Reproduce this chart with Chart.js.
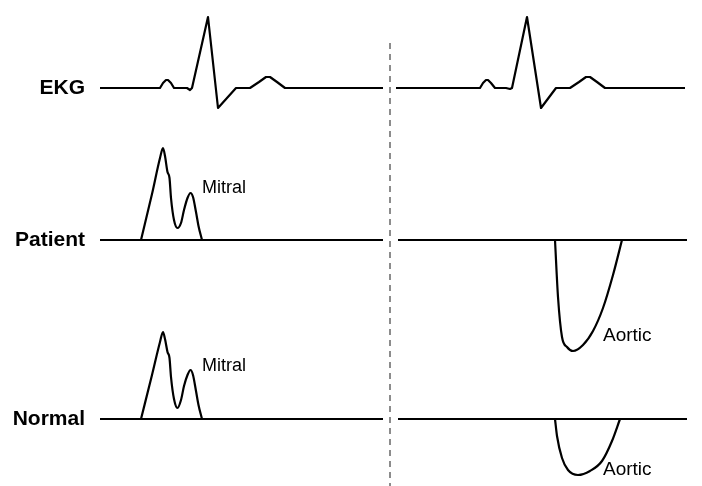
<!DOCTYPE html>
<html>
<head>
<meta charset="utf-8">
<script src="https://cdn.jsdelivr.net/npm/chart.js@4"></script>
<style>
  html, body { margin: 0; padding: 0; background: #fff; }
  #wrap { width: 702px; height: 486px; position: relative; }
</style>
</head>
<body>
<div id="wrap"><canvas id="chart"></canvas></div>
<script>
// row names and wave names
const rowLabels = ['EKG', 'Patient', 'Normal'];
const flowLabels = ['Mitral', 'Aortic'];

// EKG beat, left and right of the divider (time units, amplitude up = positive)
const ekgLeftX  = [100, 160, 163, 166, 168, 171, 174, 187, 190, 192, 208, 218, 236, 250, 259, 266, 270, 277, 285, 383];
const ekgLeftY  = [0,   0,   5,   8,   8,   5,   0,   0,   -2,  0,   71,  -20, 0,   0,   6,   11,  11,  6,   0,   0];
const ekgRightX = [396, 480, 483, 486, 488, 491, 495, 506, 510, 512, 527, 541, 556, 570, 579, 586, 590, 597, 605, 685];
const ekgRightY = [0,   0,   5,   8,   8,   5,   0,   0,   -1,  0,   71,  -20, 0,   0,   6,   11,  11,  6,   0,   0];

// mitral inflow (above the line)
const mitralX        = [141, 152, 160, 163, 165, 167.5, 169.5, 171, 174, 177.5, 181, 184, 187.5, 190.5, 193, 196, 198.5, 202];
const mitralPatientY = [0,   46,  82,  92,  84,  68,    62,    42,  20,  12,    17,  30,  42,    47,    43,  28,  14,    0];
const mitralNormalY  = [0,   44,  77,  87,  80,  67,    61,    42,  20,  11,    19,  33,  44,    49,    44,  28,  14,    0];

// aortic outflow (below the line)
const aorticPatientX = [555, 558, 562, 567, 573, 583, 593, 603, 613, 622];
const aorticPatientY = [0,   -57, -97, -107, -111, -105, -91, -68, -35, 0];
const aorticNormalX  = [555, 557, 562, 568, 578, 590, 602, 612, 620];
const aorticNormalY  = [0,   -17, -39, -51, -56, -52, -42, -22, 0];

// baseline extents for each panel
const leftPanel = [100, 383];
const rightPanel = [398, 687];
const dividerX = 390;

function pts(xs, ys) {
  return xs.map((x, i) => ({ x: x, y: ys[i] }));
}

function line(data, axis, opts) {
  return Object.assign({
    data: data,
    yAxisID: axis,
    showLine: true,
    borderColor: '#000',
    borderWidth: 2.2,
    pointRadius: 0,
    fill: false,
    tension: 0
  }, opts || {});
}

function baseline(panel, axis) {
  return line(pts(panel, [0, 0]), axis);
}

const datasets = [
  line(pts(ekgLeftX, ekgLeftY), 'yEkg', { borderJoinStyle: 'round' }),
  line(pts(ekgRightX, ekgRightY), 'yEkg', { borderJoinStyle: 'round' }),
  baseline(leftPanel, 'yPatient'),
  baseline(rightPanel, 'yPatient'),
  baseline(leftPanel, 'yNormal'),
  baseline(rightPanel, 'yNormal'),
  line(pts(mitralX, mitralPatientY), 'yPatient', { cubicInterpolationMode: 'monotone' }),
  line(pts(mitralX, mitralNormalY), 'yNormal', { cubicInterpolationMode: 'monotone' }),
  line(pts(aorticPatientX, aorticPatientY), 'yPatient', { cubicInterpolationMode: 'monotone' }),
  line(pts(aorticNormalX, aorticNormalY), 'yNormal', { cubicInterpolationMode: 'monotone' }),
  // dashed divider between the two beats
  line(pts([dividerX, dividerX], [45, -400]), 'yEkg', { borderColor: '#8c8c8c', borderWidth: 2, borderDash: [6, 5] })
];

// text labels: [text, x, amplitude, axis, font, align]
const textItems = [
  [rowLabels[0], 85, 0, 'yEkg', 'bold 21px "Liberation Sans", Arial, sans-serif', 'right'],
  [rowLabels[1], 85, 0, 'yPatient', 'bold 21px "Liberation Sans", Arial, sans-serif', 'right'],
  [rowLabels[2], 85, 0, 'yNormal', 'bold 21px "Liberation Sans", Arial, sans-serif', 'right'],
  [flowLabels[0], 202, 52, 'yPatient', '18px "Liberation Sans", Arial, sans-serif', 'left'],
  [flowLabels[0], 202, 53, 'yNormal', '18px "Liberation Sans", Arial, sans-serif', 'left'],
  [flowLabels[1], 603, -96, 'yPatient', '19px "Liberation Sans", Arial, sans-serif', 'left'],
  [flowLabels[1], 603, -51, 'yNormal', '19px "Liberation Sans", Arial, sans-serif', 'left']
];

const labelPlugin = {
  id: 'labels',
  afterDatasetsDraw: function(chart) {
    const ctx = chart.ctx;
    ctx.save();
    ctx.fillStyle = '#000';
    ctx.textBaseline = 'middle';
    textItems.forEach(function(t) {
      ctx.font = t[4];
      ctx.textAlign = t[5];
      ctx.fillText(t[0], chart.scales.x.getPixelForValue(t[1]), chart.scales[t[3]].getPixelForValue(t[2]));
    });
    ctx.restore();
  }
};

// each row has its own axis; zero sits on that row's baseline
function rowAxis(zeroAt) {
  return { type: 'linear', display: false, min: zeroAt - 486, max: zeroAt };
}

new Chart(document.getElementById('chart').getContext('2d'), {
  type: 'scatter',
  data: { datasets: datasets },
  options: {
    responsive: true,
    maintainAspectRatio: false,
    animation: false,
    layout: { padding: 0 },
    plugins: { legend: { display: false }, tooltip: { enabled: false } },
    scales: {
      x: { type: 'linear', display: false, min: 0, max: 702 },
      yEkg: rowAxis(88),
      yPatient: rowAxis(240),
      yNormal: rowAxis(419)
    }
  },
  plugins: [labelPlugin]
});
</script>
</body>
</html>
